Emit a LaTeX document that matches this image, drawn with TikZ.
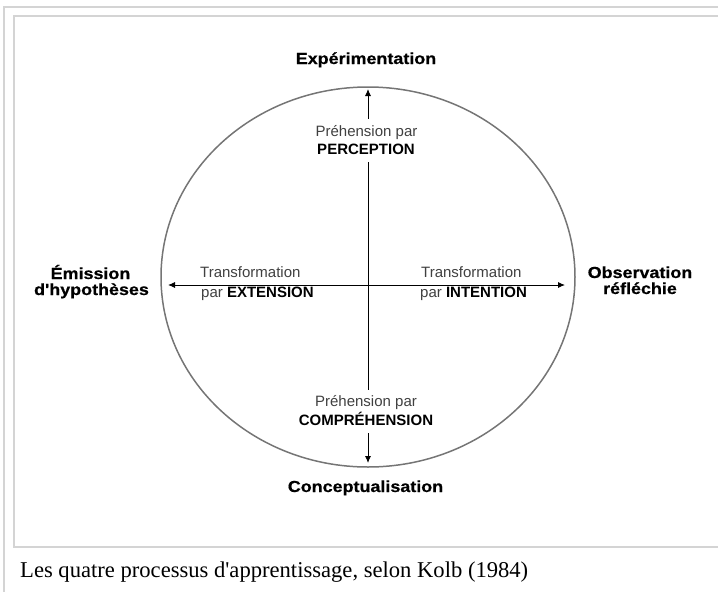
\documentclass[tikz,border=0pt]{standalone}
\usepackage{fontspec}
\setmainfont{Liberation Sans}
\newfontfamily\labfont{Liberation Sans}[FakeStretch=1.12,FakeBold=0.6]
\newfontfamily\capfont{Liberation Serif}
\usetikzlibrary{arrows.meta}
\definecolor{framegray}{HTML}{D4D4D4}
\definecolor{ellgray}{HTML}{757575}
\definecolor{txtgray}{HTML}{404040}
\tikzset{
  pole/.style={inner sep=0pt, font=\labfont\bfseries\fontsize{16}{18}\selectfont, text=black},
  inner/.style={inner sep=0pt, font=\fontsize{15}{18}\selectfont, text=txtgray},
  arr/.style={draw=black, line width=0.9pt, -{Latex[length=7pt,width=6pt]}},
  plain/.style={draw=black, line width=0.9pt},
  frame/.style={draw=framegray, line width=1.6pt},
}
\begin{document}
\begin{tikzpicture}[x=1pt,y=-1pt]
\useasboundingbox (0,0) rectangle (718,592);
% frames
\draw[frame] (4,592) -- (4,7) -- (718,7);
\draw[frame] (718,16) -- (14,16) -- (14,547) -- (718,547);
% ellipse
\draw[ellgray, line width=1.5pt] (368,277) ellipse [x radius=207, y radius=190];
% coordinates
\coordinate (c) at (368,285);
\coordinate (top) at (368,89);
\coordinate (bot) at (368,463);
\coordinate (lt) at (168,285);
\coordinate (rt) at (565,285);
% pole labels
\node[pole, anchor=base] (exp) at (366,64) {Expérimentation};
\node[pole, anchor=base] (con) at (365.5,492) {Conceptualisation};
\node[pole, anchor=base] (em1) at (90.5,279) {Émission};
\node[pole, anchor=base] (em2) at (91.5,295) {d'hypothèses};
\node[pole, anchor=base] (ob1) at (640,278) {Observation};
\node[pole, anchor=base] (ob2) at (640,294) {réfléchie};
% inner labels
\node[inner, anchor=base] (pp1) at (366.5,136) {Préhension par};
\node[inner, anchor=base] (pp2) at (366,154) {\textbf{\color{black}PERCEPTION}};
\node[inner, anchor=base] (pc1) at (366,406) {Préhension par};
\node[inner, anchor=base] (pc2) at (366,425) {\textbf{\color{black}COMPRÉHENSION}};
\node[inner, anchor=base west] (tl1) at (200,277) {Transformation};
\node[inner, anchor=base west] (tl2) at (201,297) {par \textbf{\color{black}EXTENSION}};
\node[inner, anchor=base west] (tr1) at (421,277) {Transformation};
\node[inner, anchor=base west] (tr2) at (420,297) {par \textbf{\color{black}INTENTION}};
% connectors
\draw[arr, shorten <=6pt] (pp1.north -| top) -- (top);
\draw[plain, shorten <=8pt, shorten >=5pt] (pp2.south -| c) -- (pc1.north -| c);
\draw[arr, shorten <=8pt] (pc2.south -| bot) -- (bot);
\draw[arr] (c) -- (lt);
\draw[arr] (c) -- (rt);
% caption
\node[inner sep=0pt, anchor=base west, font=\capfont\fontsize{22.6}{25}\selectfont] (cap) at (20,577) {Les quatre processus d'apprentissage, selon Kolb (1984)};
\end{tikzpicture}
\end{document}
